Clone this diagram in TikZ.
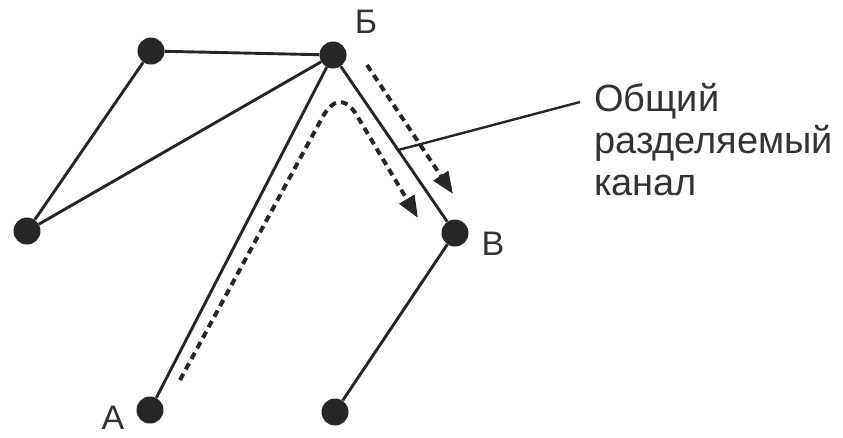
\documentclass[tikz,border=0pt]{standalone}
\usepackage{fontspec}
\setmainfont{Liberation Sans}
\usetikzlibrary{calc,arrows.meta}
\begin{document}
\begin{tikzpicture}[x=1pt,y=-1pt,
  dot/.style={circle,fill=black!85,inner sep=0pt,minimum size=27pt},
  link/.style={line width=2.9pt,black!85},
  flow/.style={line width=4pt,black!85,dash pattern=on 7pt off 5pt,-{Triangle[length=22pt,width=17pt]}},
  lbl/.style={font=\fontsize{34}{38}\selectfont,text=black!80,inner sep=0pt}]
\useasboundingbox (0,0) rectangle (843,437);
\fill[white] (0,0) rectangle (843,437);
\node[dot] (tl) at (151,51) {};
\node[dot] (B) at (333,55) {};
\node[dot] (l) at (27,231) {};
\node[dot] (V) at (455,233) {};
\node[dot] (A) at (150,410) {};
\node[dot] (bt) at (335,412) {};
\node[lbl] (lB) at (366,22) {Б};
\node[lbl] (lV) at (493,244) {В};
\node[lbl] (lA) at (113,418) {А};
\draw[link] (tl) -- (B);
\draw[link] (tl) -- (l);
\draw[link] (l) -- (B);
\draw[link] (B) -- (A);
\draw[link] (B) -- (V);
\draw[link] (V) -- (bt);
\coordinate (f1s) at (180,380);
\coordinate (f1e) at (418,218);
\draw[flow] (f1s) -- (322,118) .. controls (333,98) and (345,97) .. (356,114) -- (f1e);
\coordinate (f2s) at (367,65);
\coordinate (f2e) at (453,194);
\draw[flow] (f2s) -- (f2e);
\node[font=\fontsize{38}{42}\selectfont,text=black!80,align=left,anchor=north west,inner sep=0pt] (txt) at (594,83) {Общий\\разделяемый\\канал};
\coordinate (lp) at ($(B)!0.534!(V)$);
\draw[line width=2.4pt,black!85] (lp) -- ($(txt.north west)+(-14,19)$);
\end{tikzpicture}
\end{document}
